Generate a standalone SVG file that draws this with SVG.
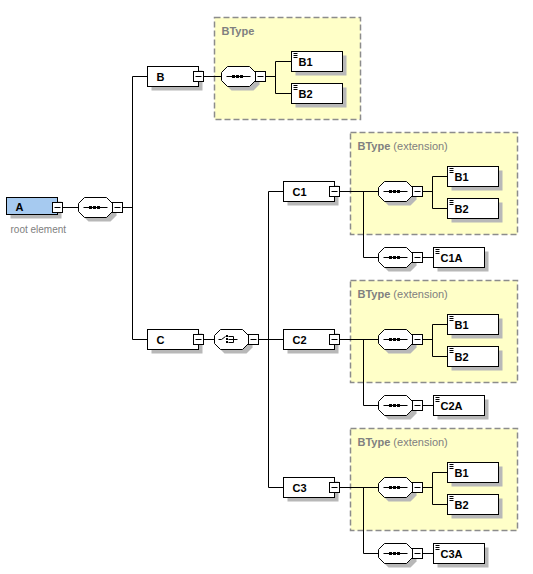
<svg xmlns="http://www.w3.org/2000/svg" xmlns:xlink="http://www.w3.org/1999/xlink" width="533" height="574" viewBox="0 0 533 574">
<style>
  .el{fill:#fff;stroke:#000;stroke-width:1}
  .root{fill:#a6caf0;stroke:#000;stroke-width:1}
  .sh{fill:#b8b8b8}
  .ln{fill:none;stroke:#000;stroke-width:1}
  .dot{fill:#000}
  .type{fill:#ffffc8;stroke:#8c8c8c;stroke-width:1.5;stroke-dasharray:6 3}
  .lbl{font-family:"Liberation Sans",Arial,sans-serif;font-size:11px;font-weight:bold;fill:#000}
  .tname{font-family:"Liberation Sans",Arial,sans-serif;font-size:11px;font-weight:bold;fill:#808080}
  .tnote{font-weight:normal}
  .cap{font-family:"Liberation Sans",Arial,sans-serif;font-size:10px;fill:#808080}
</style>
<defs>
  <!-- collapse toggle, origin at left edge / vertical centre -->
  <g id="minus">
    <rect class="el" x="0" y="-5" width="10" height="10"/>
    <path class="ln" d="M2,0H8"/>
  </g>
  <!-- octagon outline shared by compositors -->
  <polygon id="oct" points="6,-10 28,-10 34,-4 34,4 28,10 6,10 0,4 0,-4"/>
  <!-- sequence compositor -->
  <g id="seq">
    <use xlink:href="#oct" class="sh" transform="translate(4,4)"/>
    <use xlink:href="#oct" class="el"/>
    <path class="ln" d="M5,0H29"/>
    <rect class="dot" x="10.5" y="-1.5" width="3" height="3"/>
    <rect class="dot" x="14.5" y="-1.5" width="3" height="3"/>
    <rect class="dot" x="18.5" y="-1.5" width="3" height="3"/>
  </g>
  <!-- choice compositor -->
  <g id="choice">
    <use xlink:href="#oct" class="sh" transform="translate(4,4)"/>
    <use xlink:href="#oct" class="el"/>
    <path class="ln" d="M4,0H7L11,-3M14,-3H19V3H14M14,0H19M19,0H23"/>
    <rect class="dot" x="11.5" y="-4.5" width="2" height="2"/>
    <rect class="dot" x="11.5" y="-1.5" width="2" height="2"/>
    <rect class="dot" x="11.5" y="1.5" width="2" height="2"/>
  </g>
  <!-- element box with shadow, 51x20 -->
  <g id="box">
    <rect class="sh" x="4" y="4" width="51" height="20"/>
    <rect class="el" x="0" y="0" width="51" height="20"/>
  </g>
  <!-- element box with simple-content mark -->
  <g id="leaf">
    <use xlink:href="#box"/>
    <path class="ln" d="M2,2H6M2,4H6M2,6H6"/>
  </g>
</defs>

<rect x="0" y="0" width="533" height="574" fill="#fff"/>

<g transform="translate(0.5,0.5)">

  <!-- complex type frames -->
  <g id="type-B">
    <rect class="type" x="214" y="17" width="146" height="102"/>
    <text class="tname" x="221" y="34">BType</text>
  </g>
  <g id="type-C1">
    <rect class="type" x="350" y="132" width="167" height="102"/>
    <text class="tname" x="357" y="149">BType <tspan class="tnote">(extension)</tspan></text>
  </g>
  <g id="type-C2">
    <rect class="type" x="350" y="280" width="167" height="102"/>
    <text class="tname" x="357" y="297">BType <tspan class="tnote">(extension)</tspan></text>
  </g>
  <g id="type-C3">
    <rect class="type" x="350" y="428" width="167" height="102"/>
    <text class="tname" x="357" y="445">BType <tspan class="tnote">(extension)</tspan></text>
  </g>

  <!-- connectors -->
  <g id="connectors" class="ln">
    <path d="M62,207H78M122,207H132M132,76V339M132,76H147M132,339H147"/>
    <path d="M203,76H221M265,76H275M275,61V93M275,61H291M275,93H291"/>
    <path d="M203,339H214M258,339H268M268,191V487M268,191H283M268,339H283M268,487H283"/>
    <path d="M339,191H378M363,191V257H378M422,191H432M432,176V208M432,176H447M432,208H447M422,257H433"/>
    <path d="M339,339H378M363,339V405H378M422,339H432M432,324V356M432,324H447M432,356H447M422,405H433"/>
    <path d="M339,487H378M363,487V553H378M422,487H432M432,472V504M432,472H447M432,504H447M422,553H433"/>
  </g>

  <!-- root element -->
  <g id="A">
    <rect class="sh" x="10" y="201" width="51" height="17"/>
    <rect class="root" x="6" y="197" width="51" height="17"/>
    <text class="lbl" x="15" y="210">A</text>
    <use xlink:href="#minus" x="52" y="207"/>
    <text class="cap" x="10" y="232">root element</text>
  </g>
  <g id="A-seq">
    <use xlink:href="#seq" x="78" y="207"/>
    <use xlink:href="#minus" x="112" y="207"/>
  </g>

  <!-- B branch -->
  <g id="B">
    <use xlink:href="#box" x="147" y="66"/>
    <text class="lbl" x="156" y="80">B</text>
    <use xlink:href="#minus" x="193" y="76"/>
  </g>
  <g id="B-seq">
    <use xlink:href="#seq" x="221" y="76"/>
    <use xlink:href="#minus" x="255" y="76"/>
  </g>
  <g id="B-B1">
    <use xlink:href="#leaf" x="291" y="51"/>
    <text class="lbl" x="298" y="65">B1</text>
  </g>
  <g id="B-B2">
    <use xlink:href="#leaf" x="291" y="83"/>
    <text class="lbl" x="298" y="97">B2</text>
  </g>

  <!-- C branch -->
  <g id="C">
    <use xlink:href="#box" x="147" y="329"/>
    <text class="lbl" x="156" y="343">C</text>
    <use xlink:href="#minus" x="193" y="339"/>
  </g>
  <g id="C-choice">
    <use xlink:href="#choice" x="214" y="339"/>
    <use xlink:href="#minus" x="248" y="339"/>
  </g>

  <!-- C1 -->
  <g id="C1">
    <use xlink:href="#box" x="283" y="181"/>
    <text class="lbl" x="292" y="195">C1</text>
    <use xlink:href="#minus" x="329" y="191"/>
  </g>
  <g id="C1-seq">
    <use xlink:href="#seq" x="378" y="191"/>
    <use xlink:href="#minus" x="412" y="191"/>
  </g>
  <g id="C1-B1">
    <use xlink:href="#leaf" x="447" y="166"/>
    <text class="lbl" x="454" y="180">B1</text>
  </g>
  <g id="C1-B2">
    <use xlink:href="#leaf" x="447" y="198"/>
    <text class="lbl" x="454" y="212">B2</text>
  </g>
  <g id="C1-seq2">
    <use xlink:href="#seq" x="378" y="257"/>
    <use xlink:href="#minus" x="412" y="257"/>
  </g>
  <g id="C1A">
    <use xlink:href="#leaf" x="433" y="247"/>
    <text class="lbl" x="440" y="261">C1A</text>
  </g>

  <!-- C2 -->
  <g id="C2">
    <use xlink:href="#box" x="283" y="329"/>
    <text class="lbl" x="292" y="343">C2</text>
    <use xlink:href="#minus" x="329" y="339"/>
  </g>
  <g id="C2-seq">
    <use xlink:href="#seq" x="378" y="339"/>
    <use xlink:href="#minus" x="412" y="339"/>
  </g>
  <g id="C2-B1">
    <use xlink:href="#leaf" x="447" y="314"/>
    <text class="lbl" x="454" y="328">B1</text>
  </g>
  <g id="C2-B2">
    <use xlink:href="#leaf" x="447" y="346"/>
    <text class="lbl" x="454" y="360">B2</text>
  </g>
  <g id="C2-seq2">
    <use xlink:href="#seq" x="378" y="405"/>
    <use xlink:href="#minus" x="412" y="405"/>
  </g>
  <g id="C2A">
    <use xlink:href="#leaf" x="433" y="395"/>
    <text class="lbl" x="440" y="409">C2A</text>
  </g>

  <!-- C3 -->
  <g id="C3">
    <use xlink:href="#box" x="283" y="477"/>
    <text class="lbl" x="292" y="491">C3</text>
    <use xlink:href="#minus" x="329" y="487"/>
  </g>
  <g id="C3-seq">
    <use xlink:href="#seq" x="378" y="487"/>
    <use xlink:href="#minus" x="412" y="487"/>
  </g>
  <g id="C3-B1">
    <use xlink:href="#leaf" x="447" y="462"/>
    <text class="lbl" x="454" y="476">B1</text>
  </g>
  <g id="C3-B2">
    <use xlink:href="#leaf" x="447" y="494"/>
    <text class="lbl" x="454" y="508">B2</text>
  </g>
  <g id="C3-seq2">
    <use xlink:href="#seq" x="378" y="553"/>
    <use xlink:href="#minus" x="412" y="553"/>
  </g>
  <g id="C3A">
    <use xlink:href="#leaf" x="433" y="543"/>
    <text class="lbl" x="440" y="557">C3A</text>
  </g>
</g>
</svg>
